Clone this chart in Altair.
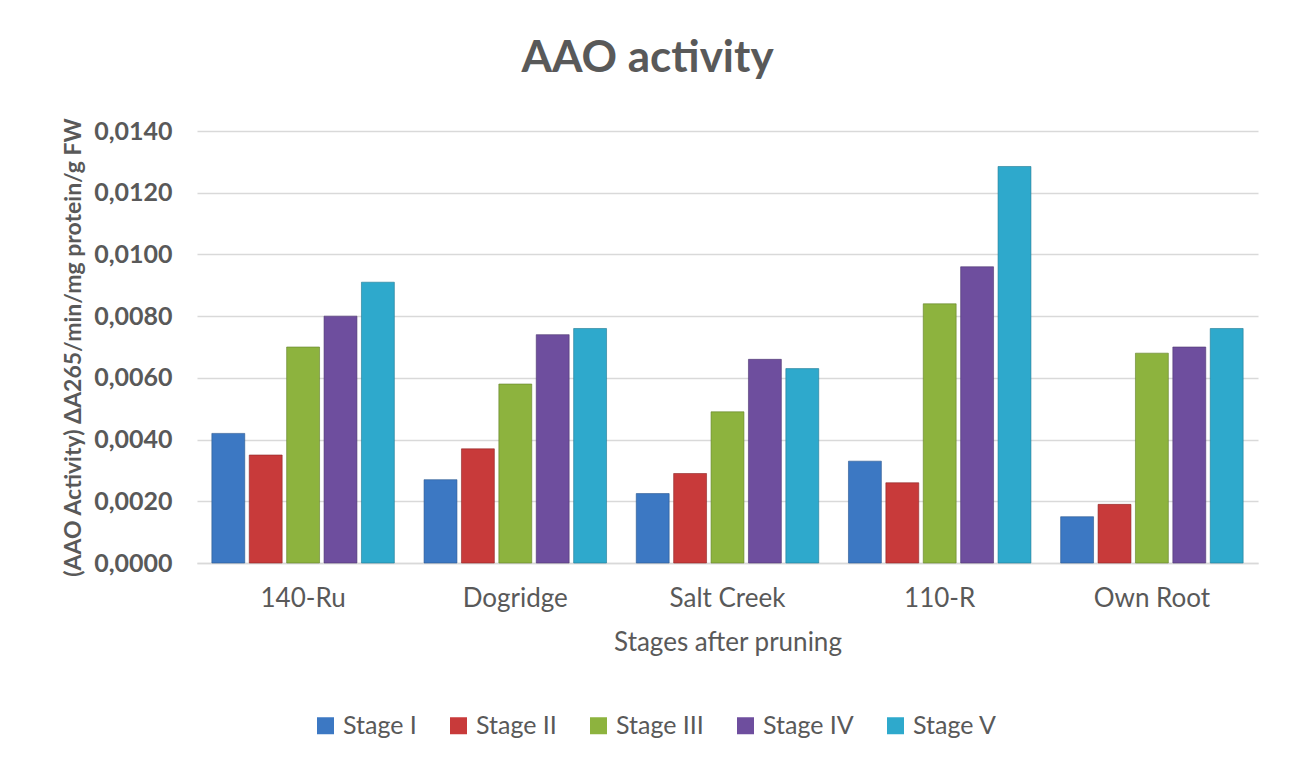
import altair as alt
import pandas as pd

categories = ["140-Ru", "Dogridge", "Salt Creek", "110-R", "Own Root"]
stages = ["Stage I", "Stage II", "Stage III", "Stage IV", "Stage V"]
stage_i = [0.0042, 0.0027, 0.00225, 0.0033, 0.0015]
stage_ii = [0.0035, 0.0037, 0.0029, 0.0026, 0.0019]
stage_iii = [0.0070, 0.0058, 0.0049, 0.0084, 0.0068]
stage_iv = [0.0080, 0.0074, 0.0066, 0.0096, 0.0070]
stage_v = [0.0091, 0.0076, 0.0063, 0.01285, 0.0076]
colors = ["#3C78C3", "#C83A3A", "#8DB33E", "#6E4E9E", "#2EA9CC"]
strokes = ["#2A5690", "#8E2727", "#62802A", "#4D3670", "#1F7A94"]

series = [stage_i, stage_ii, stage_iii, stage_iv, stage_v]
rows = []
for s, vals in zip(stages, series):
    for c, v in zip(categories, vals):
        rows.append({"Rootstock": c, "Stage": s, "Value": v})
df = pd.DataFrame(rows)

font = "Lato"
gray = "#595959"

bars = alt.Chart(df).mark_bar(strokeWidth=1, strokeOpacity=0.6).encode(
    x=alt.X("Rootstock:N", sort=categories,
            scale=alt.Scale(paddingInner=0.14, paddingOuter=0.07),
            axis=alt.Axis(title="Stages after pruning", labelAngle=0,
                          ticks=False, labelPadding=22, titlePadding=18,
                          labelFontSize=26, titleFontSize=26,
                          titleFontWeight="normal",
                          domainColor="#D9D9D9", domainWidth=1.5)),
    xOffset=alt.XOffset("Stage:N", sort=stages, scale=alt.Scale(paddingInner=0.12)),
    y=alt.Y("Value:Q",
            scale=alt.Scale(domain=[0, 0.014], nice=False),
            axis=alt.Axis(title="(AAO Activity) ΔA265/min/mg protein/g  FW",
                          values=[0, 0.002, 0.004, 0.006, 0.008, 0.010, 0.012, 0.014],
                          labelExpr="replace(format(datum.value, '.4f'), '.', ',')",
                          ticks=False, domain=False, labelPadding=25,
                          titlePadding=8, labelFontSize=25, labelFontWeight="bold",
                          titleFontSize=23, titleFontWeight="bold",
                          gridColor="#D9D9D9", gridWidth=1.5)),
    color=alt.Color("Stage:N", sort=stages,
                    scale=alt.Scale(domain=stages, range=colors),
                    legend=alt.Legend(title=None, orient="none", direction="horizontal",
                                      legendX=116, legendY=582,
                                      symbolType="square", symbolSize=289,
                                      labelFontSize=25, columnPadding=29,
                                      labelOffset=5, symbolStrokeWidth=0)),
    stroke=alt.Stroke("Stage:N", sort=stages,
                      scale=alt.Scale(domain=stages, range=strokes), legend=None),
)

chart = bars.properties(
    width=1061, height=432,
    autosize=alt.AutoSizeParams(type="none"),
    padding={"left": 189, "top": 123, "right": 24, "bottom": 198},
    title=alt.Title("AAO activity", fontSize=44, fontWeight="bold", color=gray,
                    font=font, offset=34, anchor="middle", dx=-80),
).configure_view(stroke=None).configure_axis(
    labelFont=font, titleFont=font, labelColor=gray, titleColor=gray
).configure_legend(labelFont=font, labelColor=gray)

chart.save("out.html", embed_options={"renderer": "svg", "actions": False})
